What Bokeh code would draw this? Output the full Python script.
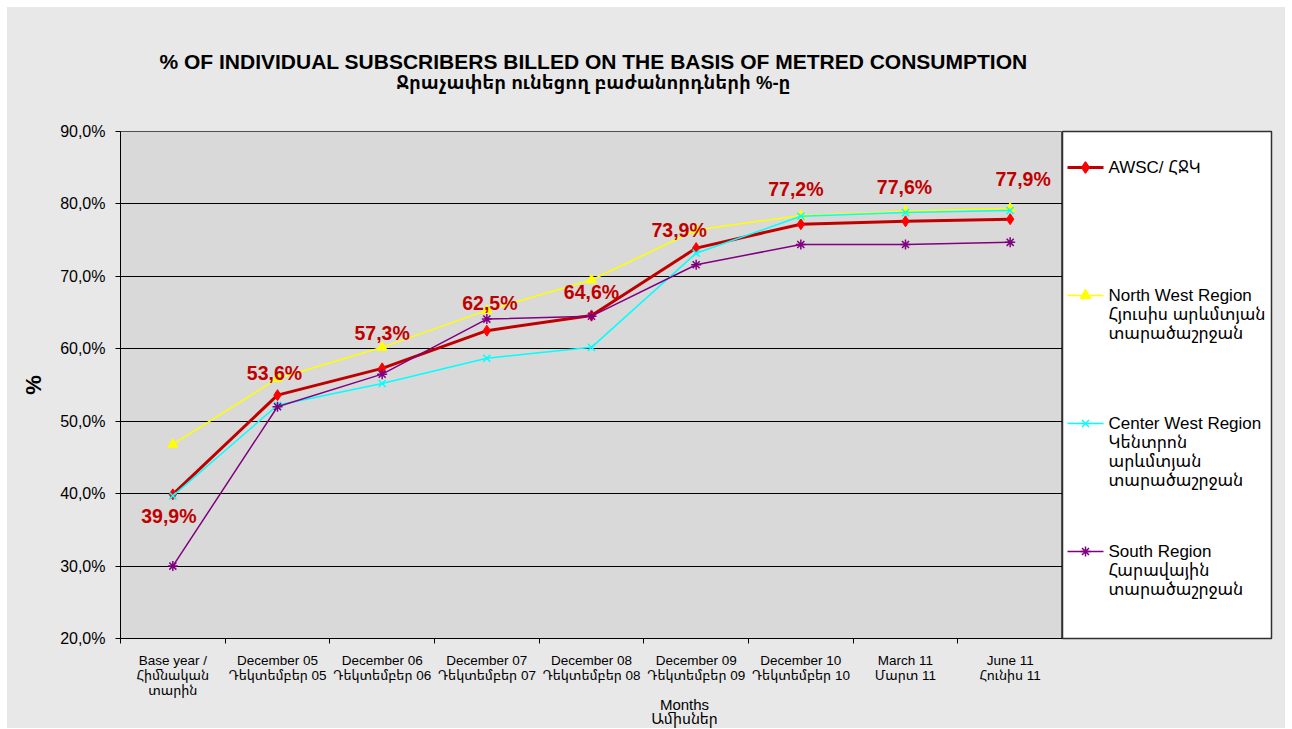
import numpy as np
from bokeh.plotting import figure
from bokeh.models import (ColumnDataSource, Range1d, FixedTicker, CustomJSTickFormatter,
                          LabelSet, Spacer)
from bokeh.layouts import row, column
from bokeh.embed import file_html
from bokeh.resources import INLINE
from bokeh.core.properties import value

# ---------------- data ----------------
categories = [
    "Base year /\nՀիմնական\nտարին",
    "December 05\nԴեկտեմբեր 05",
    "December 06\nԴեկտեմբեր 06",
    "December 07\nԴեկտեմբեր 07",
    "December 08\nԴեկտեմբեր 08",
    "December 09\nԴեկտեմբեր 09",
    "December 10\nԴեկտեմբեր 10",
    "March 11\nՄարտ 11",
    "June 11\nՀունիս 11",
]
awsc = [39.9, 53.6, 57.3, 62.5, 64.6, 73.9, 77.2, 77.6, 77.9]
north_west = [46.8, 55.9, 60.2, 65.3, 69.5, 76.4, 78.4, 79.0, 79.4]
center_west = [39.7, 52.2, 55.2, 58.7, 60.2, 73.2, 78.3, 78.8, 79.1]
south = [30.0, 52.0, 56.5, 64.1, 64.5, 71.6, 74.4, 74.4, 74.7]
y_ticks = [20, 30, 40, 50, 60, 70, 80, 90]

series_names = [
    "AWSC/ ՀՋԿ",
    "North West Region\nՀյուսիս արևմտյան\nտարածաշրջան",
    "Center West Region\nԿենտրոն\nարևմտյան\nտարածաշրջան",
    "South Region\nՀարավային\nտարածաշրջան",
]
title_lines = ["% OF INDIVIDUAL SUBSCRIBERS BILLED ON THE BASIS OF METRED CONSUMPTION",
               "Ջրաչափեր ունեցող բաժանորդների %-ը"]
x_title = ["Months", "Ամիսներ"]
y_title = "%"

# label placement (pixels, style only)
lab_dx = [-4, -3, 0, 3, 0, -17, -5, -1, 13]
lab_dy = [-22, 22, 35, 28, 23, 18, 35, 34, 40]

FONT = "Liberation Sans, Noto Sans Armenian, DejaVu Sans Condensed, DejaVu Sans"
BG = "#e8e8e8"

n = len(categories)
xs = np.arange(n) + 0.5


def blank(width, height, transparent=False):
    f = figure(width=width, height=height, output_backend="svg", toolbar_location=None,
               x_range=Range1d(0, width), y_range=Range1d(height, 0),
               x_axis_location=None, y_axis_location=None,
               min_border_left=0, min_border_right=0, min_border_top=0,
               min_border_bottom=0)
    f.background_fill_color = BG
    f.border_fill_color = BG
    if transparent:
        f.background_fill_alpha = 0
        f.border_fill_alpha = 0
    f.outline_line_color = None
    f.grid.grid_line_color = None
    return f


# ---------------- header ----------------
hd = blank(1278, 112)
hd.text(x=[586], y=[54], text=[title_lines[0]], text_font=value(FONT),
        text_font_size=value("21px"), text_font_style="bold", text_color="#000000",
        text_align="center", text_baseline="middle")
hd.text(x=[586], y=[75], text=[title_lines[1]], text_font=value(FONT),
        text_font_size=value("18.5px"), text_font_style="bold", text_color="#000000",
        text_align="center", text_baseline="middle")

# ---------------- main plot ----------------
p = figure(width=1055, height=581, output_backend="svg", toolbar_location=None,
           x_range=Range1d(0, n), y_range=Range1d(20, 90),
           min_border_left=113, min_border_right=0, min_border_top=12,
           min_border_bottom=62)
p.background_fill_color = "#d9d9d9"
p.border_fill_color = BG
p.outline_line_color = "#505050"
p.outline_line_width = 1

p.xgrid.grid_line_color = None
p.ygrid.grid_line_color = "#000000"
p.ygrid.grid_line_width = 1
p.ygrid.ticker = FixedTicker(ticks=y_ticks)

p.yaxis.ticker = FixedTicker(ticks=y_ticks)
p.yaxis.formatter = CustomJSTickFormatter(code="return tick.toFixed(1).replace('.', ',') + '%';")
p.yaxis.axis_line_color = "#000000"
p.yaxis.major_tick_out = 5
p.yaxis.major_tick_in = 0
p.yaxis.minor_tick_line_color = None
p.yaxis.major_label_text_font = FONT
p.yaxis.major_label_text_font_size = "16px"
p.yaxis.major_label_text_color = "#000000"
p.yaxis.major_label_standoff = 10
p.yaxis.axis_label = y_title
p.yaxis.axis_label_text_font = FONT
p.yaxis.axis_label_text_font_style = "bold"
p.yaxis.axis_label_text_font_size = "22px"
p.yaxis.axis_label_text_color = "#000000"
p.yaxis.axis_label_standoff = 11

p.xaxis.ticker = FixedTicker(ticks=list(xs), minor_ticks=list(range(n + 1)))
p.xaxis.major_label_overrides = {float(x): c for x, c in zip(xs, categories)}
p.xaxis.axis_line_color = "#000000"
p.xaxis.major_tick_line_color = None
p.xaxis.minor_tick_out = 5
p.xaxis.minor_tick_in = 0
p.xaxis.minor_tick_line_color = "#000000"
p.xaxis.major_label_text_font = FONT
p.xaxis.major_label_text_font_size = "13.5px"
p.xaxis.major_label_text_line_height = 1.0
p.xaxis.major_label_standoff = 8
p.xaxis.major_label_text_color = "#000000"

src = ColumnDataSource(dict(x=xs, awsc=awsc, nw=north_west, cw=center_west, s=south,
                            lbl=[f"{v:.1f}%".replace(".", ",") for v in awsc],
                            dx=lab_dx, dy=lab_dy))

p.line("x", "awsc", source=src, line_color="#c00000", line_width=3)
p.scatter("x", "awsc", source=src, marker="diamond", size=11, fill_color="#ff0000",
          line_color="#ff0000")
p.line("x", "nw", source=src, line_color="#ffff00", line_width=1.5)
p.scatter("x", "nw", source=src, marker="triangle", size=10, fill_color="#ffff00",
          line_color="#ffff00")
p.line("x", "cw", source=src, line_color="#00ffff", line_width=1.5)
p.scatter("x", "cw", source=src, marker="x", size=10, line_color="#00ffff", line_width=1.5)
p.line("x", "s", source=src, line_color="#800080", line_width=1.5)
p.scatter("x", "s", source=src, marker="asterisk", size=10, line_color="#800080",
          line_width=1.5)

p.add_layout(LabelSet(x="x", y="awsc", text="lbl", source=src, x_offset="dx",
                      y_offset="dy", text_align="center", text_baseline="middle",
                      text_font=value(FONT), text_font_size=value("19.5px"),
                      text_font_style="bold", text_color="#c00000"))

# ---------------- legend panel ----------------
lg = figure(width=223, height=581, output_backend="svg", toolbar_location=None,
            x_range=Range1d(0, 209), y_range=Range1d(507, 0),
            x_axis_location=None, y_axis_location=None,
            min_border_left=0, min_border_right=14, min_border_top=12,
            min_border_bottom=62)
lg.background_fill_color = "#ffffff"
lg.border_fill_color = BG
lg.outline_line_color = "#303030"
lg.outline_line_width = 1.5
lg.grid.grid_line_color = None

item_y = [36, 164, 292, 420]
colors = ["#c00000", "#ffff00", "#00ffff", "#800080"]
mcolors = ["#ff0000", "#ffff00", "#00ffff", "#800080"]
widths = [3, 1.5, 1.5, 1.5]
markers = ["diamond", "triangle", "x", "asterisk"]
sizes = [11, 10, 10, 10]
for yy, c, mc, w, m, sz in zip(item_y, colors, mcolors, widths, markers, sizes):
    lg.segment(x0=5, y0=yy, x1=41, y1=yy, line_color=c, line_width=w)
    lg.scatter(x=[23], y=[yy], marker=m, size=sz, fill_color=mc, line_color=mc,
               line_width=1.5)
lg.text(x=[46] * 4, y=[yy - 9.5 for yy in item_y], text=series_names,
        text_font=value(FONT), text_font_size=value("17px"), text_line_height=1.0,
        text_baseline="top", text_align="left", text_color="#000000")

# ---------------- footer (overlaps the bottom of the plot row) ----------------
ft = blank(1278, 36, transparent=True)
ft.styles = {"margin-top": "-8px"}
ft.text(x=[677, 677], y=[12, 26], text=x_title, text_font=value(FONT),
        text_font_size=value("15px"), text_color="#000000",
        text_align="center", text_baseline="middle")

inner = column(hd, row(p, lg, spacing=0), ft, spacing=0,
               styles={"background-color": BG})
layout = column(Spacer(height=7), row(Spacer(width=7), inner, spacing=0), spacing=0)
open("out.html", "w").write(file_html(layout, INLINE))
